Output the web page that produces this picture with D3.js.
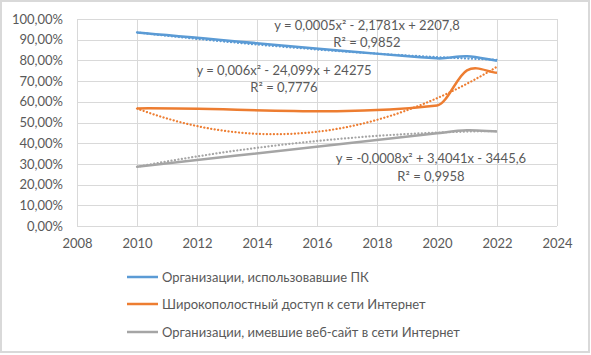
<!DOCTYPE html>
<html><head><meta charset="utf-8">
<script src="https://cdn.jsdelivr.net/npm/d3@7"></script>
<style>
html,body{margin:0;padding:0;background:#fff;}
svg{display:block;font-family:Lato,"Open Sans",sans-serif;}
</style></head>
<body>
<script>
const years = [2010, 2020, 2021, 2022];
const pcOrgs = [0.935, 0.810, 0.820, 0.798];
const broadband = [0.568, 0.582, 0.752, 0.740];
const websites = [0.286, 0.448, 0.462, 0.456];
const seriesNames = ["Организации, использовавшие ПК", "Широкополостный доступ к сети Интернет", "Организации, имевшие веб-сайт в сети Интернет"];
const seriesColors = ["#5B9BD5", "#ED7D31", "#A5A5A5"];
const trendEq = ["y = 0,0005x² - 2,1781x + 2207,8", "y = 0,006x² - 24,099x + 24275", "y = -0,0008x² + 3,4041x - 3445,6"];
const trendR2 = ["R² = 0,9852", "R² = 0,7776", "R² = 0,9958"];
const xTicks = [2008, 2010, 2012, 2014, 2016, 2018, 2020, 2022, 2024];
const yTicks = [0, 0.1, 0.2, 0.3, 0.4, 0.5, 0.6, 0.7, 0.8, 0.9, 1.0];

const W = 591, H = 355;
const svg = d3.select("body").append("svg").attr("width", W).attr("height", H);
svg.append("rect").attr("x", 1).attr("y", 1).attr("width", 588).attr("height", 351)
  .attr("fill", "#fff").attr("stroke", "#d9d9d9").attr("stroke-width", 2);

const x = d3.scaleLinear().domain([2008, 2024]).range([77, 557]);
const y = d3.scaleLinear().domain([0, 1]).range([226, 19]);
const fmtPct = v => d3.format(".2f")(v * 100).replace(".", ",") + "%";

svg.append("g").selectAll("line").data(yTicks).join("line")
  .attr("x1", x(2008)).attr("x2", x(2024))
  .attr("y1", d => Math.round(y(d)) + 0.5).attr("y2", d => Math.round(y(d)) + 0.5)
  .attr("stroke", "#d9d9d9").attr("stroke-width", 1);
svg.append("g").selectAll("line").data(xTicks).join("line")
  .attr("y1", y(0)).attr("y2", y(1))
  .attr("x1", d => Math.round(x(d)) + 0.5).attr("x2", d => Math.round(x(d)) + 0.5)
  .attr("stroke", "#d9d9d9").attr("stroke-width", 1);

const yAxis = svg.append("g").attr("transform", `translate(${x(2008)},0)`)
  .call(d3.axisLeft(y).tickValues(yTicks).tickFormat(fmtPct).tickSize(0).tickPadding(14));
yAxis.select(".domain").remove();
yAxis.selectAll("text").attr("fill", "#595959").style("font-size", "13px").style("font-family", "Lato, sans-serif");

const xAxis = svg.append("g").attr("transform", `translate(0,${y(0)})`)
  .call(d3.axisBottom(x).tickValues(xTicks).tickFormat(d3.format("d")).tickSize(0).tickPadding(13));
xAxis.select(".domain").remove();
xAxis.selectAll("text").attr("fill", "#595959").style("font-size", "13px").style("font-family", "Lato, sans-serif");

// quadratic least-squares fit (Excel polynomial trendline, order 2)
function quadFit(xs, ys) {
  const x0 = xs[0];
  const t = xs.map(v => v - x0);
  let S = [0,0,0,0,0], T = [0,0,0];
  t.forEach((ti, i) => {
    for (let k = 0; k < 5; k++) S[k] += Math.pow(ti, k);
    for (let k = 0; k < 3; k++) T[k] += Math.pow(ti, k) * ys[i];
  });
  const A = [[S[0],S[1],S[2],T[0]],[S[1],S[2],S[3],T[1]],[S[2],S[3],S[4],T[2]]];
  for (let i = 0; i < 3; i++) {
    for (let j = i + 1; j < 3; j++) {
      const f = A[j][i] / A[i][i];
      for (let k = i; k < 4; k++) A[j][k] -= f * A[i][k];
    }
  }
  const c = [0,0,0];
  for (let i = 2; i >= 0; i--) {
    let s = A[i][3];
    for (let k = i + 1; k < 3; k++) s -= A[i][k] * c[k];
    c[i] = s / A[i][i];
  }
  return v => c[0] + c[1] * (v - x0) + c[2] * (v - x0) * (v - x0);
}

// smooth curve: cubic Hermite parameterised by x, Catmull-Rom style tangents
function curveSmoothX(context) {
  let pts = [];
  return {
    areaStart() {}, areaEnd() {},
    lineStart() { pts = []; },
    point(px, py) { pts.push([+px, +py]); },
    lineEnd() {
      const n = pts.length;
      if (!n) return;
      const m = pts.map((p, i) => {
        const a = pts[Math.max(0, i - 1)], b = pts[Math.min(n - 1, i + 1)];
        return (b[1] - a[1]) / (b[0] - a[0]);
      });
      context.moveTo(pts[0][0], pts[0][1]);
      for (let i = 0; i < n - 1; i++) {
        const p0 = pts[i], p1 = pts[i + 1], h = (p1[0] - p0[0]) / 3;
        context.bezierCurveTo(p0[0] + h, p0[1] + m[i] * h, p1[0] - h, p1[1] - m[i + 1] * h, p1[0], p1[1]);
      }
    }
  };
}

const allSeries = [pcOrgs, broadband, websites];
const line = d3.line().x(d => x(d[0])).y(d => y(d[1])).curve(curveSmoothX);
const trendLine = d3.line().x(d => x(d[0])).y(d => y(d[1]));

allSeries.forEach((vals, i) => {
  const pts = years.map((yr, j) => [yr, vals[j]]);
  svg.append("path").attr("d", line(pts)).attr("fill", "none")
    .attr("stroke", seriesColors[i]).attr("stroke-width", 2.5).attr("stroke-linejoin", "round");
});
allSeries.forEach((vals, i) => {
  const f = quadFit(years, vals);
  const tp = d3.range(0, 241).map(k => { const xx = 2010 + k * 0.05; return [xx, f(xx)]; });
  svg.append("path").attr("d", trendLine(tp)).attr("fill", "none")
    .attr("stroke", seriesColors[i]).attr("stroke-width", 2.2)
    .attr("stroke-dasharray", "0.1,3.4").attr("stroke-linecap", "round");
});

const eqPos = [[367, 25, 42], [284, 70, 87], [431, 158, 176]];
eqPos.forEach((p, i) => {
  const g = svg.append("g").attr("fill", "#595959").style("font-size", "13px").attr("text-anchor", "middle");
  g.append("text").attr("x", p[0]).attr("y", p[1]).attr("dy", "0.35em").text(trendEq[i]);
  g.append("text").attr("x", p[0]).attr("y", p[2]).attr("dy", "0.35em").text(trendR2[i]);
});

const legY = [277, 304, 332];
seriesNames.forEach((name, i) => {
  svg.append("line").attr("x1", 127).attr("x2", 158).attr("y1", legY[i]).attr("y2", legY[i])
    .attr("stroke", seriesColors[i]).attr("stroke-width", 2.5);
  svg.append("text").attr("x", 162).attr("y", legY[i]).attr("dy", "0.35em")
    .attr("fill", "#595959").style("font-size", "13px").text(name);
});
</script>
</body></html>
